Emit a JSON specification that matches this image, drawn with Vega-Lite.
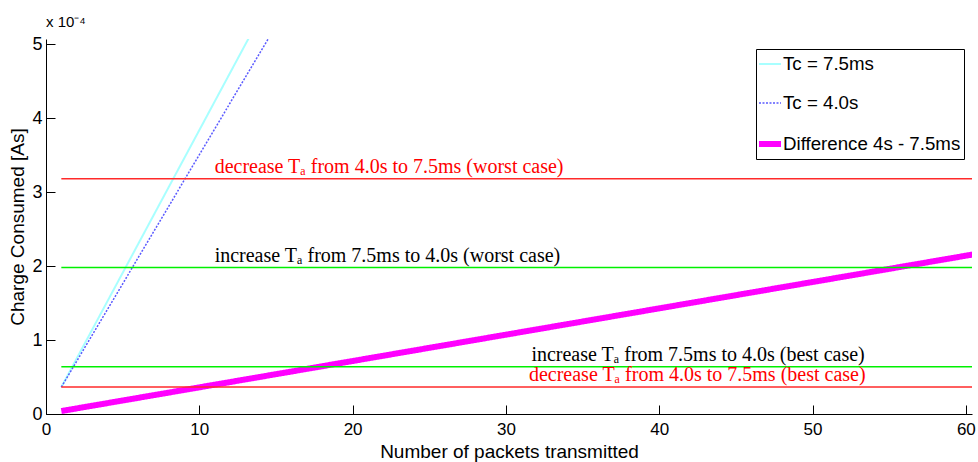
{
  "$schema": "https://vega.github.io/schema/vega-lite/v6.json",
  "width": 926,
  "height": 375,
  "autosize": {"type": "none"},
  "padding": {"left": 46, "top": 39, "right": 6, "bottom": 48},
  "background": "white",
  "title": {
    "text": "x 10⁻⁴",
    "anchor": "start",
    "frame": "group",
    "font": "Liberation Sans",
    "fontSize": 15,
    "fontWeight": "normal",
    "color": "black",
    "offset": 5
  },
  "config": {
    "view": {"stroke": null},
    "axis": {
      "domainColor": "black",
      "domainWidth": 1,
      "tickColor": "black",
      "tickSize": -9,
      "grid": false,
      "labelFlush": false,
      "labelFont": "Liberation Sans",
      "labelFontSize": 18,
      "labelColor": "black",
      "titleFont": "Liberation Sans",
      "titleFontSize": 19,
      "titleFontWeight": "normal",
      "titleColor": "black"
    },
    "legend": {
      "orient": "none",
      "legendX": 710,
      "legendY": 10,
      "strokeColor": "black",
      "fillColor": "white",
      "padding": 3,
      "symbolOffset": -3,
      "labelOffset": -1,
      "labelFont": "Liberation Sans",
      "labelFontSize": 18.7,
      "labelColor": "black",
      "symbolType": "stroke",
      "symbolSize": 484,
      "rowPadding": 17,
      "labelLimit": 300,
      "title": null
    }
  },
  "datasets": {
    "curves": [
      {"series": "Tc = 7.5ms", "n": 1, "charge": 0.0000364},
      {"series": "Tc = 7.5ms", "n": 61, "charge": 0.002352},
      {"series": "Tc = 4.0s", "n": 1, "charge": 0.0000364},
      {"series": "Tc = 4.0s", "n": 61, "charge": 0.002130},
      {"series": "Difference 4s - 7.5ms", "n": 1, "charge": 0.000004},
      {"series": "Difference 4s - 7.5ms", "n": 61, "charge": 0.0002176}
    ],
    "levels": [
      {"change": "decrease", "case": "worst", "charge": 0.0003181, "from": 1, "to": 61, "label_at": 11.0,
       "label": "decrease Tₐ from 4.0s to 7.5ms (worst case)"},
      {"change": "increase", "case": "worst", "charge": 0.000198, "from": 1, "to": 61, "label_at": 11.0,
       "label": "increase Tₐ from 7.5ms to 4.0s (worst case)"},
      {"change": "increase", "case": "best", "charge": 0.0000638, "from": 1, "to": 61, "label_at": 31.66,
       "label": "increase Tₐ from 7.5ms to 4.0s (best case)"},
      {"change": "decrease", "case": "best", "charge": 0.0000364, "from": 1, "to": 61, "label_at": 31.5,
       "label": "decrease Tₐ from 4.0s to 7.5ms (best case)"}
    ]
  },
  "layer": [
    {
      "data": {"name": "curves"},
      "mark": {"type": "line", "clip": true, "strokeCap": "butt"},
      "encoding": {
        "x": {
          "field": "n",
          "type": "quantitative",
          "scale": {"domain": [0, 60.4], "nice": false, "zero": false},
          "axis": {
            "title": "Number of packets transmitted",
            "values": [0, 10, 20, 30, 40, 50, 60],
            "format": "d",
            "labelPadding": 16,
            "labelFontSize": 17,
            "titleBaseline": "top",
            "titleY": 28
          }
        },
        "y": {
          "field": "charge",
          "type": "quantitative",
          "scale": {"domain": [0, 0.000507], "nice": false},
          "axis": {
            "title": "Charge Consumed [As]",
            "values": [0, 0.0001, 0.0002, 0.0003, 0.0004, 0.0005],
            "labelExpr": "round(datum.value * 10000)",
            "labelPadding": 13,
            "titlePadding": 4
          }
        },
        "color": {
          "field": "series",
          "type": "ordinal",
          "scale": {
            "domain": ["Tc = 7.5ms", "Tc = 4.0s", "Difference 4s - 7.5ms"],
            "range": ["#a8ffff", "#5a5aff", "#ff00ff"]
          }
        },
        "strokeWidth": {
          "field": "series",
          "type": "ordinal",
          "scale": {
            "type": "ordinal",
            "domain": ["Tc = 7.5ms", "Tc = 4.0s", "Difference 4s - 7.5ms"],
            "range": [2, 1.5, 6]
          }
        },
        "strokeDash": {
          "field": "series",
          "type": "ordinal",
          "scale": {
            "domain": ["Tc = 7.5ms", "Tc = 4.0s", "Difference 4s - 7.5ms"],
            "range": [[1, 0], [2, 1.5], [1, 0]]
          }
        }
      }
    },
    {
      "data": {"name": "levels"},
      "transform": [{"filter": "datum.change === 'increase'"}],
      "mark": {"type": "rule", "clip": true, "color": "#00f000", "strokeWidth": 1.5},
      "encoding": {
        "x": {"field": "from", "type": "quantitative"},
        "x2": {"field": "to"},
        "y": {"field": "charge", "type": "quantitative"}
      }
    },
    {
      "data": {"name": "levels"},
      "transform": [{"filter": "datum.change === 'decrease'"}],
      "mark": {"type": "rule", "clip": true, "color": "#ff2a2a", "strokeWidth": 1.5},
      "encoding": {
        "x": {"field": "from", "type": "quantitative"},
        "x2": {"field": "to"},
        "y": {"field": "charge", "type": "quantitative"}
      }
    },
    {
      "data": {"name": "levels"},
      "transform": [{"filter": "datum.change === 'increase'"}],
      "mark": {"type": "text", "align": "left", "baseline": "alphabetic", "dy": -6,
               "font": "Liberation Serif", "fontSize": 20, "color": "black"},
      "encoding": {
        "x": {"field": "label_at", "type": "quantitative"},
        "y": {"field": "charge", "type": "quantitative"},
        "text": {"field": "label"}
      }
    },
    {
      "data": {"name": "levels"},
      "transform": [{"filter": "datum.change === 'decrease'"}],
      "mark": {"type": "text", "align": "left", "baseline": "alphabetic", "dy": -6,
               "font": "Liberation Serif", "fontSize": 20, "color": "#ff0000"},
      "encoding": {
        "x": {"field": "label_at", "type": "quantitative"},
        "y": {"field": "charge", "type": "quantitative"},
        "text": {"field": "label"}
      }
    }
  ]
}
